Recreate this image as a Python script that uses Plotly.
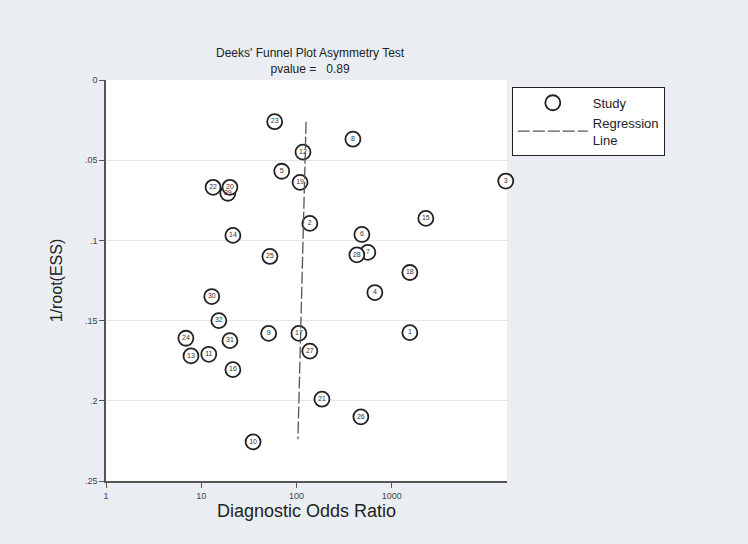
import plotly.graph_objects as go

# Study points: label, diagnostic odds ratio, 1/root(ESS)
study_ids = ["1", "2", "3", "4", "5", "6", "7", "8", "9", "10", "11", "12", "13", "14", "15", "16",
             "17", "18", "19", "20", "21", "22", "23", "24", "25", "26", "27", "28", "29", "30", "31", "32"]
dor = [1549, 138, 15740, 665, 70, 486, 561, 391, 51, 35, 12.0, 117, 7.8, 21.5, 2280, 21.5,
       106, 1549, 109, 20, 185, 13.3, 59, 6.9, 52.6, 474, 138, 430, 19, 12.9, 20, 15.3]
inv_root_ess = [0.1575, 0.0894, 0.063, 0.1325, 0.0569, 0.0963, 0.1075, 0.0369, 0.158, 0.2256, 0.171,
                0.045, 0.172, 0.0969, 0.0863, 0.1806, 0.158, 0.12, 0.0638, 0.0669, 0.199, 0.0669,
                0.026, 0.161, 0.11, 0.21, 0.169, 0.109, 0.0706, 0.135, 0.1625, 0.15]

# Regression line end points
reg_x = [126, 103.5]
reg_y = [0.026, 0.224]

y_ticks = [0, 0.05, 0.1, 0.15, 0.2, 0.25]
y_ticktext = ["0", ".05", ".1", ".15", ".2", ".25"]
x_ticks = [1, 10, 100, 1000]
x_ticktext = ["1", "10", "100", "1000"]

BG = "#eaeef2"
AXIS = "#555555"

fig = go.Figure()

# draw 29 first so 20 sits on top of it
order = sorted(range(len(study_ids)), key=lambda i: 0 if study_ids[i] == "29" else 1)

fig.add_trace(go.Scatter(
    x=[dor[i] for i in order],
    y=[inv_root_ess[i] for i in order],
    mode="markers+text",
    text=[study_ids[i] for i in order],
    textposition="middle center",
    textfont=dict(size=7, color="#333333", family="Arial, Liberation Sans, sans-serif"),
    marker=dict(size=15, color="white", line=dict(color="#222222", width=1.8)),
    cliponaxis=False,
    name="Study",
))

fig.add_trace(go.Scatter(
    x=reg_x, y=reg_y,
    mode="lines",
    line=dict(color="#555555", width=1.3, dash="12px,3px"),
    name="Regression<br>Line",
))

fig.update_layout(
    width=748, height=544,
    paper_bgcolor=BG,
    plot_bgcolor="white",
    margin=dict(l=106, r=241, t=80, b=63),
    font=dict(family="Arial, Liberation Sans, sans-serif", color="#222222"),
    annotations=[
        dict(text="Deeks' Funnel Plot Asymmetry Test<br>pvalue =   0.89",
             x=0.51, y=1.0, xref="paper", yref="paper", yanchor="bottom",
             showarrow=False, font=dict(size=12, color="#222222"), yshift=2),
    ],
    legend=dict(
        x=1.012, y=0.983, xanchor="left", yanchor="top",
        bgcolor="white", bordercolor="#222222", borderwidth=1,
        font=dict(size=13, color="#222222"),
        itemwidth=70, tracegroupgap=0,
    ),
    showlegend=True,
)

fig.update_xaxes(
    type="log", range=[0, 4.21],
    tickvals=x_ticks, ticktext=x_ticktext,
    ticks="outside", ticklen=5, tickcolor=AXIS, tickwidth=1,
    showline=True, linecolor=AXIS, linewidth=1.5,
    showgrid=False, zeroline=False,
    tickfont=dict(size=9, color="#444444"),
    title=dict(text="Diagnostic Odds Ratio", font=dict(size=18, color="#222222"), standoff=4),
)
fig.update_yaxes(
    range=[0.25, 0],
    tickvals=y_ticks, ticktext=y_ticktext,
    ticks="outside", ticklen=5, tickcolor=AXIS, tickwidth=1,
    showline=True, linecolor=AXIS, linewidth=1.5,
    showgrid=True, gridcolor="#e6e6e6", gridwidth=1,
    zeroline=False,
    tickfont=dict(size=9, color="#444444"),
    title=dict(text="1/root(ESS)", font=dict(size=16, color="#222222"), standoff=18),
)

fig.write_html("out.html", config={"displayModeBar": False},
               post_script="document.body.style.margin='0';")
